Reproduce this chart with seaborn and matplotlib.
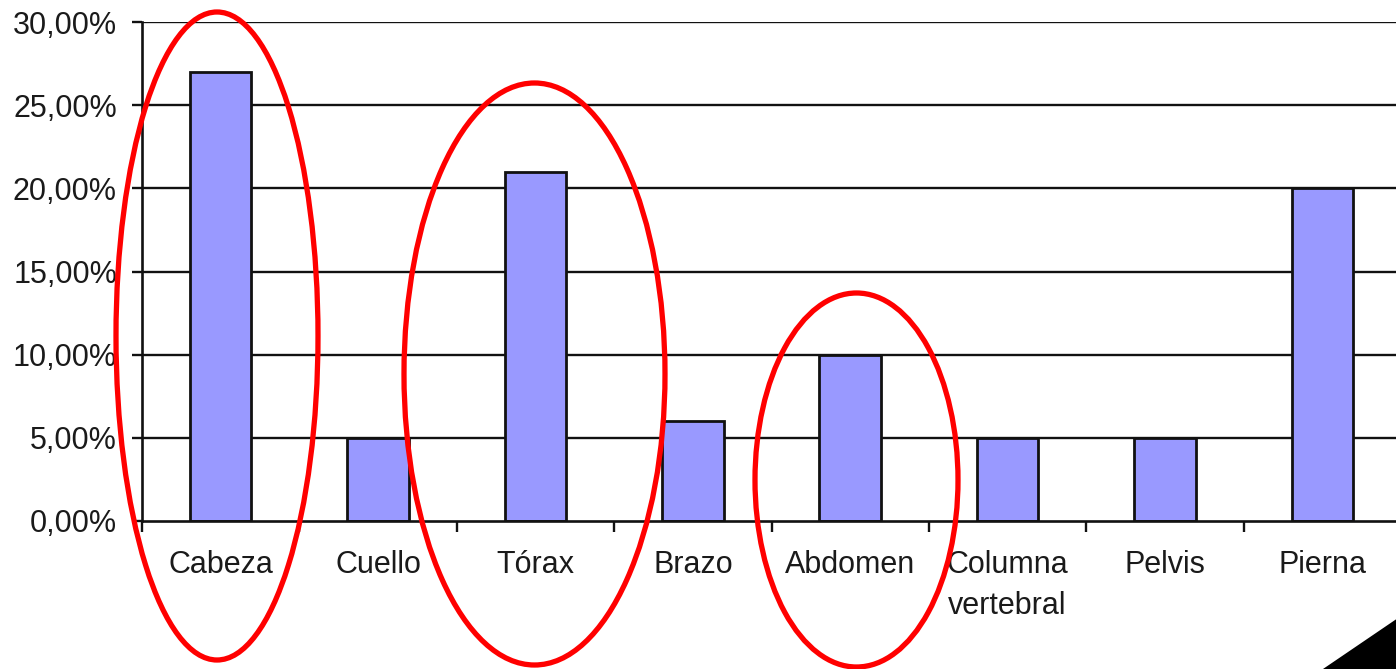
import matplotlib
matplotlib.use("Agg")
import matplotlib.pyplot as plt
from matplotlib.patches import Ellipse, Polygon
import seaborn as sns
import pandas as pd

categories = ["Cabeza", "Cuello", "Tórax", "Brazo", "Abdomen", "Columna\nvertebral", "Pelvis", "Pierna"]
values = [27, 5, 21, 6, 10, 5, 5, 20]
y_ticks = [0, 5, 10, 15, 20, 25, 30]
y_tick_labels = ["0,00%", "5,00%", "10,00%", "15,00%", "20,00%", "25,00%", "30,00%"]

sns.set_theme(style="white")
plt.rcParams["font.family"] = ["Liberation Sans", "DejaVu Sans"]

W, H = 1396, 669
fig = plt.figure(figsize=(W / 100, H / 100), dpi=100)
ax = fig.add_axes([142 / W, 1 - 521 / H, (1401 - 142) / W, (521 - 22) / H])

df = pd.DataFrame({"zona": categories, "pct": values})
sns.barplot(data=df, x="zona", y="pct", color="#9999ff", saturation=1,
            width=0.39, edgecolor="#111111", linewidth=2.0, ax=ax, zorder=3)

ax.set_xlim(-0.5, len(categories) - 0.5)
ax.set_ylim(0, 30)
ax.set_yticks(y_ticks)
ax.set_yticklabels(y_tick_labels)
ax.set_xlabel("")
ax.set_ylabel("")

ax.grid(False)
for yv in y_ticks[1:]:
    ax.axhline(yv, color="#111111", linewidth=1.7, zorder=1)

for s in ["top", "right"]:
    ax.spines[s].set_visible(False)
for s in ["left", "bottom"]:
    ax.spines[s].set_color("#111111")
    ax.spines[s].set_linewidth(1.9)
    ax.spines[s].set_zorder(4)

ax.tick_params(axis="y", which="major", left=True, length=7, width=1.7,
               color="#111111", pad=11, labelsize=22, labelcolor="#1a1a1a")
ax.tick_params(axis="x", which="major", bottom=False, length=0, pad=21,
               labelsize=22, labelcolor="#1a1a1a")
ax.set_xticks([i - 0.5 for i in range(len(categories) + 1)], minor=True)
ax.tick_params(axis="x", which="minor", bottom=True, length=8, width=1.7,
               color="#111111", direction="out")
for lbl in ax.get_xticklabels():
    lbl.set_multialignment("center")
    lbl.set_linespacing(1.45)

# red highlight ellipses (figure pixel geometry: left, right, top, bottom)
ellipses = [(116, 318, 12, 660), (404, 665, 83, 665), (755, 958, 293, 667)]
for l, r, t, b in ellipses:
    e = Ellipse(((l + r) / 2 / W, 1 - (t + b) / 2 / H), (r - l) / W, (b - t) / H,
                transform=fig.transFigure, fill=False, edgecolor="#ff0000",
                linewidth=3.8, zorder=10)
    fig.add_artist(e)

tri = Polygon([(1323 / W, 0), (1 + 2 / W, 1 - 618 / H), (1 + 2 / W, 0)],
              closed=True, transform=fig.transFigure, facecolor="black",
              edgecolor="none", zorder=11)
fig.add_artist(tri)

fig.savefig("out.png", dpi=100, facecolor="white")
